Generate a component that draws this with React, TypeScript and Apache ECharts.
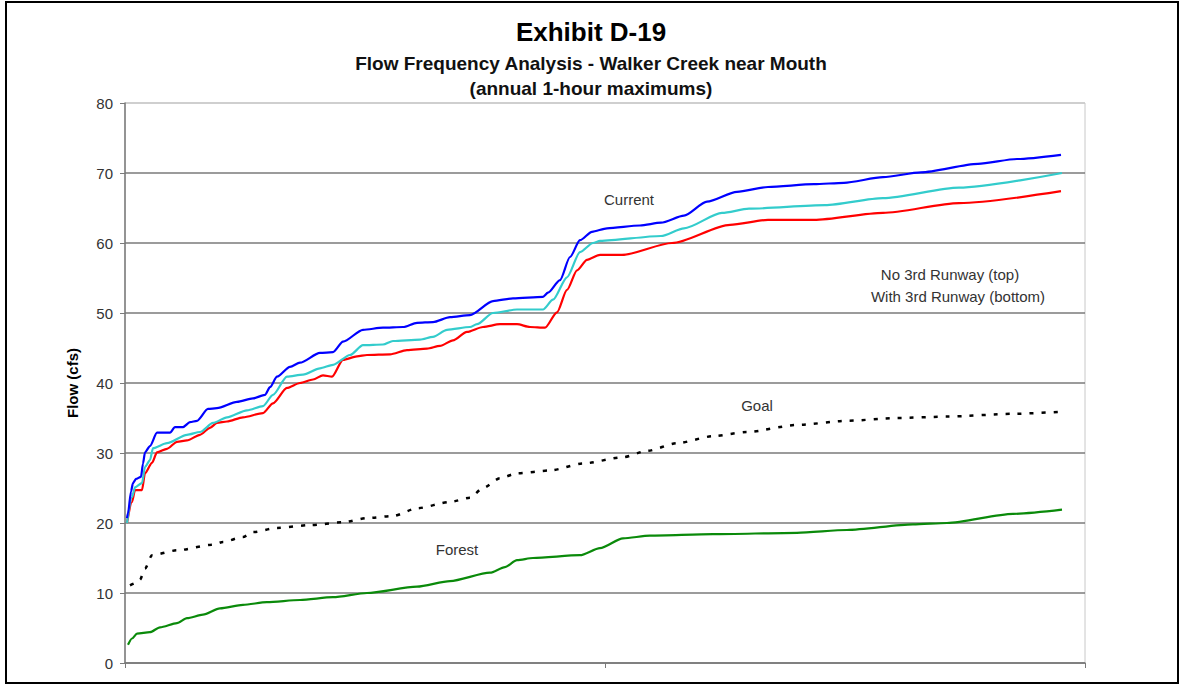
import React, { useEffect, useRef } from "react";
import * as echarts from "echarts";

// x = position along the frequency axis (0..960), y = flow (cfs)
const currentX = [2, 3, 6, 8, 11, 16, 18, 20, 25, 32, 45, 50, 58, 65, 72, 83, 92, 112, 128, 140, 145, 152, 165, 175, 195, 208, 218, 238, 258, 278, 292, 308, 325, 345, 368, 388, 418, 423, 435, 445, 455, 467, 482, 515, 536, 559, 582, 612, 643, 689, 719, 758, 796, 853, 892, 936];
const currentY = [20.7, 21.4, 24.5, 25.7, 26.3, 26.6, 28.5, 30.1, 31.0, 32.9, 32.9, 33.7, 33.7, 34.4, 34.6, 36.3, 36.4, 37.3, 37.8, 38.3, 39.4, 40.9, 42.3, 42.9, 44.3, 44.4, 45.9, 47.6, 47.9, 48.0, 48.6, 48.7, 49.4, 49.7, 51.7, 52.1, 52.3, 52.9, 54.7, 58.0, 60.4, 61.6, 62.1, 62.5, 62.9, 63.9, 65.9, 67.3, 68.0, 68.4, 68.6, 69.4, 70.1, 71.3, 72.0, 72.6];

const noRunwayX = [2, 7, 10, 17, 20, 25, 28, 42, 62, 75, 88, 102, 122, 138, 148, 162, 178, 195, 208, 225, 238, 258, 268, 295, 308, 322, 345, 352, 368, 392, 418, 428, 442, 455, 468, 475, 536, 559, 597, 624, 700, 758, 834, 937];
const noRunwayY = [20.0, 23.7, 25.1, 25.7, 28.0, 29.0, 30.7, 31.4, 32.6, 33.0, 34.3, 35.1, 36.1, 36.7, 38.3, 40.9, 41.2, 42.1, 42.6, 44.0, 45.4, 45.5, 46.0, 46.2, 46.6, 47.6, 48.0, 48.4, 50.0, 50.5, 50.5, 51.9, 55.1, 58.7, 60.0, 60.3, 61.0, 62.1, 64.3, 64.9, 65.4, 66.4, 67.9, 70.0];

const withRunwayX = [2, 7, 10, 17, 20, 27, 32, 42, 52, 62, 75, 85, 92, 102, 118, 138, 148, 162, 175, 188, 198, 207, 218, 232, 242, 265, 282, 302, 315, 328, 342, 358, 375, 392, 405, 420, 432, 442, 452, 462, 475, 497, 547, 605, 643, 689, 758, 834, 936];
const withRunwayY = [20.0, 23.0, 24.7, 24.7, 27.1, 28.6, 30.1, 30.6, 31.6, 31.8, 32.6, 33.6, 34.3, 34.5, 35.1, 35.7, 37.1, 39.3, 40.0, 40.5, 41.1, 40.9, 43.3, 43.8, 44.0, 44.1, 44.7, 44.9, 45.3, 46.1, 47.3, 48.0, 48.4, 48.4, 48.0, 47.9, 50.1, 53.3, 56.1, 57.6, 58.3, 58.3, 60.0, 62.6, 63.3, 63.3, 64.3, 65.7, 67.4];

const goalX = [5, 12, 15, 20, 27, 52, 88, 98, 118, 128, 152, 185, 218, 242, 268, 292, 325, 345, 358, 375, 392, 425, 458, 498, 522, 552, 588, 622, 672, 722, 772, 822, 888, 937];
const goalY = [11.1, 11.5, 11.9, 13.5, 15.4, 16.1, 16.9, 17.3, 18.0, 18.7, 19.3, 19.7, 20.1, 20.7, 21.0, 22.1, 23.0, 23.6, 25.0, 26.4, 27.1, 27.5, 28.5, 29.4, 30.3, 31.4, 32.4, 33.0, 34.0, 34.6, 35.0, 35.2, 35.6, 35.9];

const forestX = [3, 7, 12, 25, 35, 52, 62, 78, 95, 118, 142, 175, 208, 242, 292, 325, 365, 380, 392, 408, 455, 475, 498, 525, 588, 672, 722, 788, 822, 888, 937];
const forestY = [2.6, 3.5, 4.2, 4.4, 5.1, 5.7, 6.4, 6.9, 7.8, 8.3, 8.7, 9.0, 9.4, 10.0, 10.9, 11.7, 12.9, 13.7, 14.7, 15.0, 15.4, 16.4, 17.8, 18.2, 18.4, 18.6, 19.0, 19.8, 20.0, 21.3, 21.9];

const yTicks = [0, 10, 20, 30, 40, 50, 60, 70, 80];

const zip = (xs: number[], ys: number[]) => xs.map((x, i) => [x, ys[i]]);

const FONT = "'Liberation Sans', Arial, sans-serif";

const note = (text: string, x: number, y: number) => ({
  type: "text",
  x,
  y,
  style: { text, font: `15px ${FONT}`, fill: "#333", textAlign: "center", textVerticalAlign: "middle" },
});

export default function App() {
  const ref = useRef<HTMLDivElement>(null);
  useEffect(() => {
    if (!ref.current) return;
    const chart = echarts.init(ref.current, null, { renderer: "svg" });
    const gridColors = yTicks.map((t) => (t === 80 ? "#c8c8c8" : "#7a7a7a"));
    const lineBase = { type: "line", symbol: "none", smooth: 0.25, smoothMonotone: "x" };
    chart.setOption({
      animation: false,
      backgroundColor: "#ffffff",
      textStyle: { fontFamily: FONT },
      grid: {
        left: 125,
        right: 97,
        top: 103,
        bottom: 22,
        show: true,
        borderColor: "#c8c8c8",
        borderWidth: 1,
      },
      xAxis: {
        type: "value",
        min: 0,
        max: 960,
        interval: 480,
        axisLine: { show: true, onZero: false, lineStyle: { color: "#7a7a7a", width: 1.5 } },
        axisTick: { show: true, length: 5, lineStyle: { color: "#7a7a7a" } },
        axisLabel: { show: false },
        splitLine: { show: false },
      },
      yAxis: {
        type: "value",
        min: 0,
        max: 80,
        interval: 10,
        name: "Flow (cfs)",
        nameLocation: "middle",
        nameGap: 45,
        nameTextStyle: { fontWeight: "bold", fontSize: 15, color: "#000", fontFamily: FONT },
        axisLine: { show: true, lineStyle: { color: "#7a7a7a", width: 1.5 } },
        axisTick: { show: true, length: 5, lineStyle: { color: "#7a7a7a" } },
        axisLabel: { fontSize: 15, color: "#333", margin: 12, fontFamily: FONT },
        splitLine: { show: true, lineStyle: { color: gridColors, width: 1.5 } },
      },
      graphic: [
        {
          type: "rect",
          shape: { x: 6, y: 2, width: 1172, height: 681 },
          style: { fill: "none", stroke: "#000", lineWidth: 2 },
          silent: true,
        },
        {
          type: "text",
          x: 591,
          y: 32,
          style: { text: "Exhibit D-19", font: `bold 26px ${FONT}`, fill: "#000", textAlign: "center", textVerticalAlign: "middle" },
        },
        {
          type: "text",
          x: 591,
          y: 63,
          style: { text: "Flow Frequency Analysis - Walker Creek near Mouth", font: `bold 19px ${FONT}`, fill: "#111", textAlign: "center", textVerticalAlign: "middle" },
        },
        {
          type: "text",
          x: 591,
          y: 88,
          style: { text: "(annual 1-hour maximums)", font: `bold 19px ${FONT}`, fill: "#111", textAlign: "center", textVerticalAlign: "middle" },
        },
        note("Current", 629, 199),
        note("No 3rd Runway (top)", 950, 274),
        note("With 3rd Runway (bottom)", 958, 296),
        note("Goal", 757, 405),
        note("Forest", 457, 549),
      ],
      series: [
        { ...lineBase, name: "Forest", data: zip(forestX, forestY), lineStyle: { color: "#0a8a0a", width: 2.2 } },
        { ...lineBase, name: "Goal", data: zip(goalX, goalY), lineStyle: { color: "#000", width: 2.5, type: [4, 8] } },
        { ...lineBase, name: "With 3rd Runway", data: zip(withRunwayX, withRunwayY), lineStyle: { color: "#ff0000", width: 2.2 } },
        { ...lineBase, name: "No 3rd Runway", data: zip(noRunwayX, noRunwayY), lineStyle: { color: "#33cccc", width: 2.2 } },
        { ...lineBase, name: "Current", data: zip(currentX, currentY), lineStyle: { color: "#0000ff", width: 2.2 } },
      ],
    });
    return () => chart.dispose();
  }, []);
  return (
    <div
      ref={ref}
      style={{ position: "absolute", left: 0, top: 0, width: 1182, height: 685, background: "#fff" }}
    />
  );
}
